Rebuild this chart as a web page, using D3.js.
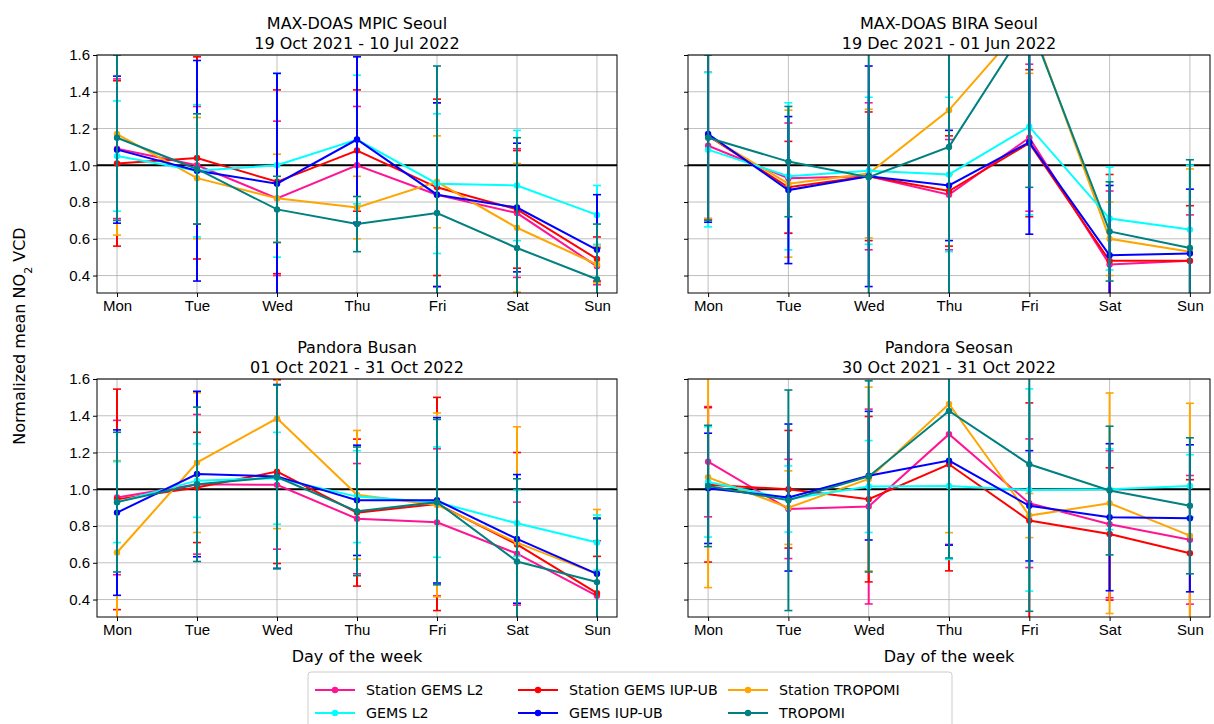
<!DOCTYPE html>
<html><head><meta charset="utf-8">
<script src="https://cdn.jsdelivr.net/npm/d3@7"></script>
<style>body{margin:0;background:#fff}svg{font-family:"DejaVu Sans",sans-serif}</style>
</head><body><svg width="1214" height="724"></svg>
<script>
var days = ["Mon","Tue","Wed","Thu","Fri","Sat","Sun"];
var yTicks = [0.4,0.6,0.8,1.0,1.2,1.4,1.6];
var seriesNames = ["Station GEMS L2","Station GEMS IUP-UB","Station TROPOMI","GEMS L2","GEMS IUP-UB","TROPOMI"];
var colors = ["#ff1493","#ff0000","#ffa500","#00ffff","#0000ff","#008080"];
var titles = [["MAX-DOAS MPIC Seoul","19 Oct 2021 - 10 Jul 2022"],["MAX-DOAS BIRA Seoul","19 Dec 2021 - 01 Jun 2022"],
              ["Pandora Busan","01 Oct 2021 - 31 Oct 2022"],["Pandora Seosan","30 Oct 2021 - 31 Oct 2022"]];

// means per panel, series order as seriesNames
var meanMPIC = [[1.09,1.0,0.82,1.0,0.84,0.74,0.45],[1.01,1.04,0.91,1.08,0.88,0.76,0.49],[1.17,0.93,0.82,0.77,0.91,0.66,0.46],
                [1.05,0.97,1.0,1.14,0.9,0.89,0.73],[1.085,0.97,0.9,1.14,0.84,0.77,0.54],[1.15,0.98,0.76,0.68,0.74,0.55,0.38]];
var stdMPIC = [[0.38,0.32,0.42,0.32,0.5,0.35,0.1],[0.45,0.55,0.5,0.33,0.48,0.32,0.12],[0.55,0.33,0.24,0.17,0.25,0.35,0.1],
               [0.3,0.36,0.5,0.35,0.38,0.3,0.16],[0.4,0.6,0.6,0.45,0.5,0.35,0.3],[0.45,0.3,0.18,0.15,0.8,0.6,0.3]];
var meanBIRA = [[1.106,0.93,0.94,0.84,1.15,0.46,0.48],[1.16,0.88,0.94,0.86,1.12,0.48,0.48],[1.16,0.9,0.955,1.3,1.8,0.6,0.53],
                [1.085,0.94,0.97,0.95,1.21,0.71,0.65],[1.17,0.865,0.94,0.89,1.125,0.51,0.52],[1.15,1.02,0.935,1.1,1.78,0.64,0.55]];
var stdBIRA = [[0.4,0.3,0.4,0.3,0.4,0.4,0.25],[0.45,0.25,0.35,0.3,0.4,0.47,0.3],[0.45,0.4,0.35,0.35,0.3,0.2,0.45],
               [0.42,0.4,0.4,0.42,0.48,0.28,0.35],[0.48,0.4,0.6,0.3,0.5,0.38,0.35],[0.45,0.3,0.8,0.8,0.9,0.27,0.48]];
var meanBusan = [[0.955,1.027,1.024,0.84,0.82,0.65,0.42],[0.945,1.01,1.096,0.873,0.92,0.7,0.435],[0.656,1.145,1.386,0.97,0.915,0.71,0.54],
                 [0.93,1.047,1.06,0.96,0.93,0.815,0.71],[0.873,1.083,1.07,0.94,0.94,0.73,0.54],[0.93,1.027,1.067,0.88,0.93,0.607,0.495]];
var stdBusan = [[0.42,0.38,0.35,0.3,0.4,0.28,0.3],[0.6,0.3,0.5,0.4,0.58,0.5,0.2],[0.5,0.38,0.6,0.35,0.5,0.63,0.35],
                [0.22,0.2,0.25,0.25,0.3,0.18,0.15],[0.45,0.45,0.5,0.3,0.45,0.35,0.3],[0.38,0.42,0.5,0.35,0.45,0.45,0.35]];
var meanSeosan = [[1.15,0.893,0.906,1.3,0.924,0.81,0.725],[1.024,1.0,0.946,1.136,0.83,0.757,0.652],[1.065,0.9,1.056,1.464,0.857,0.924,0.748],
                  [1.04,0.947,1.015,1.018,0.996,1.0,1.018],[1.005,0.955,1.074,1.156,0.91,0.848,0.842],[1.018,0.94,1.07,1.426,1.136,0.993,0.91]];
var stdSeosan = [[0.3,0.27,0.53,0.6,0.35,0.4,0.35],[0.42,0.32,0.45,0.58,0.64,0.36,0.4],[0.6,0.2,0.5,0.7,0.12,0.6,0.72],
                 [0.3,0.18,0.25,0.4,0.55,0.22,0.17],[0.3,0.4,0.35,0.46,0.3,0.4,0.4],[0.33,0.6,0.52,0.8,0.8,0.35,0.37]];

var panels = [
  {m:meanMPIC, s:stdMPIC, x0:97, x1:617, y0:55, y1:293, ylab:true, xlab:false},
  {m:meanBIRA, s:stdBIRA, x0:688, x1:1210, y0:55, y1:293, ylab:false, xlab:false},
  {m:meanBusan, s:stdBusan, x0:97, x1:617, y0:379, y1:617, ylab:true, xlab:true},
  {m:meanSeosan, s:stdSeosan, x0:688, x1:1210, y0:379, y1:617, ylab:false, xlab:true}
];

var svg = d3.select("svg");

panels.forEach(function(p, pi){
  var pad = (p.x1-p.x0)*0.0385;
  var x = d3.scalePoint().domain(days).range([p.x0+pad, p.x1-pad]);
  var y = d3.scaleLinear().domain([0.305,1.6]).range([p.y1,p.y0]);
  var g = svg.append("g");
  g.append("clipPath").attr("id","c"+pi).append("rect")
    .attr("x",p.x0).attr("y",p.y0).attr("width",p.x1-p.x0).attr("height",p.y1-p.y0);

  // grid
  g.selectAll(".gx").data(days).enter().append("line")
    .attr("x1",function(d){return x(d);}).attr("x2",function(d){return x(d);})
    .attr("y1",p.y0).attr("y2",p.y1).attr("stroke","#b0b0b0").attr("stroke-width",0.8);
  g.selectAll(".gy").data(yTicks).enter().append("line")
    .attr("x1",p.x0).attr("x2",p.x1)
    .attr("y1",function(d){return y(d);}).attr("y2",function(d){return y(d);})
    .attr("stroke","#b0b0b0").attr("stroke-width",0.8);

  var plot = g.append("g").attr("clip-path","url(#c"+pi+")");
  plot.append("line").attr("x1",p.x0).attr("x2",p.x1).attr("y1",y(1)).attr("y2",y(1))
    .attr("stroke","#000").attr("stroke-width",2);

  var line = d3.line().x(function(d,i){return x(days[i]);}).y(function(d){return y(d);});
  p.m.forEach(function(vals, si){
    var c = colors[si];
    var sg = plot.append("g");
    vals.forEach(function(v,i){
      var cx = x(days[i]), lo = y(v-p.s[si][i]), hi = y(v+p.s[si][i]);
      sg.append("line").attr("x1",cx).attr("x2",cx).attr("y1",lo).attr("y2",hi).attr("stroke",c).attr("stroke-width",2);
      [lo,hi].forEach(function(yy){
        sg.append("line").attr("x1",cx-4).attr("x2",cx+4).attr("y1",yy).attr("y2",yy).attr("stroke",c).attr("stroke-width",1.6);
      });
    });
    sg.append("path").datum(vals).attr("d",line).attr("fill","none").attr("stroke",c).attr("stroke-width",2);
    sg.selectAll("circle").data(vals).enter().append("circle")
      .attr("cx",function(d,i){return x(days[i]);}).attr("cy",function(d){return y(d);})
      .attr("r",3.2).attr("fill",c);
  });

  g.append("rect").attr("x",p.x0).attr("y",p.y0).attr("width",p.x1-p.x0).attr("height",p.y1-p.y0)
    .attr("fill","none").attr("stroke","#000").attr("stroke-width",1);

  var xa = g.append("g").attr("transform","translate(0,"+p.y1+")").call(d3.axisBottom(x).tickSize(4).tickPadding(3));
  var ya = g.append("g").attr("transform","translate("+p.x0+",0)")
    .call(d3.axisLeft(y).tickValues(yTicks).tickSize(4).tickFormat(p.ylab ? d3.format(".1f") : function(){return "";}));
  [xa,ya].forEach(function(a){
    a.select(".domain").remove();
    a.selectAll("text").attr("font-size",15).attr("fill","#000");
    a.selectAll("line").attr("stroke","#000");
  });

  var cx = (p.x0+p.x1)/2;
  titles[pi].forEach(function(t,k){
    g.append("text").attr("x",cx).attr("y",p.y0-26+k*20).attr("text-anchor","middle")
      .attr("font-size",16).text(t);
  });
  if (p.xlab) g.append("text").attr("x",cx).attr("y",p.y1+45).attr("text-anchor","middle")
    .attr("font-size",16).text("Day of the week");
});

var yl = svg.append("text").attr("transform","translate(25,336) rotate(-90)").attr("text-anchor","middle").attr("font-size",16);
yl.append("tspan").text("Normalized mean NO");
yl.append("tspan").attr("baseline-shift","sub").attr("font-size",11).text("2");
yl.append("tspan").text(" VCD");

// legend
var lg = svg.append("g");
lg.append("rect").attr("x",308).attr("y",672).attr("width",644).attr("height",56).attr("rx",3)
  .attr("fill","#fff").attr("stroke","#ccc");
var colX = [315,518,728];
seriesNames.forEach(function(n,i){
  var col = i<3 ? i : i-3, row = i<3 ? 0 : 1;
  var lx = colX[col], ly = 690 + row*23;
  lg.append("line").attr("x1",lx).attr("x2",lx+40).attr("y1",ly).attr("y2",ly).attr("stroke",colors[i]).attr("stroke-width",2);
  lg.append("circle").attr("cx",lx+20).attr("cy",ly).attr("r",3.2).attr("fill",colors[i]);
  lg.append("text").attr("x",lx+51).attr("y",ly+5).attr("font-size",14.2).text(n);
});
</script></body></html>
